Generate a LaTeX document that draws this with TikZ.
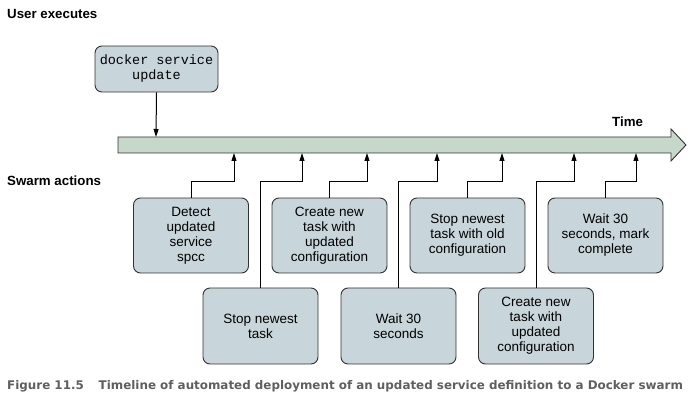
\documentclass[tikz,border=0pt]{standalone}
\usepackage{fontspec}
\setmainfont{Liberation Sans}
\newfontfamily\monofnt{Liberation Mono}
\newfontfamily\capfnt{DejaVu Sans}
\usetikzlibrary{arrows.meta}
\definecolor{boxfill}{RGB}{200,213,218}
\definecolor{barfill}{RGB}{198,216,201}
\definecolor{edge}{RGB}{50,50,50}
\definecolor{capgray}{RGB}{95,95,95}
\tikzset{
  stepbox/.style={draw=edge, line width=0.9pt, fill=boxfill, rounded corners=7pt,
    minimum width=115pt, minimum height=75pt, align=center, inner sep=2pt,
    font=\fontsize{13.5}{15}\selectfont},
  heading/.style={anchor=base west, font=\fontsize{13.3}{15}\bfseries\selectfont, inner sep=0pt},
  conn/.style={draw=black, line width=1pt, -{Triangle[length=8pt,width=5pt]}},
}
\begin{document}
\begin{tikzpicture}[x=1pt,y=-1pt]
\useasboundingbox (0,0) rectangle (694,403);
% headings
\node[heading] (ue) at (7,19) {User executes};
\node[heading] (sa) at (7,186) {Swarm actions};
\node[heading] (tm) at (612,127) {Time};
% timeline bar
\draw[edge, line width=0.9pt, fill=barfill] (118,137) -- (671,137) -- (671,129) -- (686,145) -- (671,161) -- (671,153) -- (118,153) -- cycle;
% docker command
\node[draw=edge, line width=0.9pt, fill=boxfill, rounded corners=7pt, minimum width=123pt, minimum height=46pt, align=center, inner sep=2pt, font=\monofnt\fontsize{13.5}{15}\selectfont] (cmd) at (156.5,69) {docker service\\update};
\coordinate (in) at (156,137);
\draw[conn] (cmd.south) -- (in);
% target points on bar bottom
\foreach \n/\x in {1/234,2/302,3/367,4/437,5/502,6/574,7/636}
  \coordinate (t\n) at (\x,153);
% upper boxes
\node[stepbox] (b1) at (191,235.5) {Detect\\updated\\service\\spcc};
\node[stepbox] (b3) at (329.5,235.5) {Create new\\task with\\updated\\configuration};
\node[stepbox] (b5) at (467.5,235.5) {Stop newest\\task with old\\configuration};
\node[stepbox] (b7) at (605.5,235.5) {Wait 30\\seconds, mark\\complete};
% lower boxes
\node[stepbox, minimum height=76pt] (b2) at (260.5,326) {Stop newest\\task};
\node[stepbox, minimum height=76pt] (b4) at (398.5,326) {Wait 30\\seconds};
\node[stepbox, minimum height=76pt] (b6) at (536,326) {Create new\\task with\\updated\\configuration};
% connectors
\foreach \n in {1,...,7}
  \draw[conn] (b\n.north) -- (b\n.north |- 0,182) -| (t\n);
% caption
\node[anchor=base west, inner sep=0pt, text=capgray, font=\capfnt\fontsize{11.9}{13}\bfseries\selectfont] (cap) at (7,390) {Figure 11.5\hspace{1.25em}Timeline of automated deployment of an updated service definition to a Docker swarm};
\end{tikzpicture}
\end{document}
